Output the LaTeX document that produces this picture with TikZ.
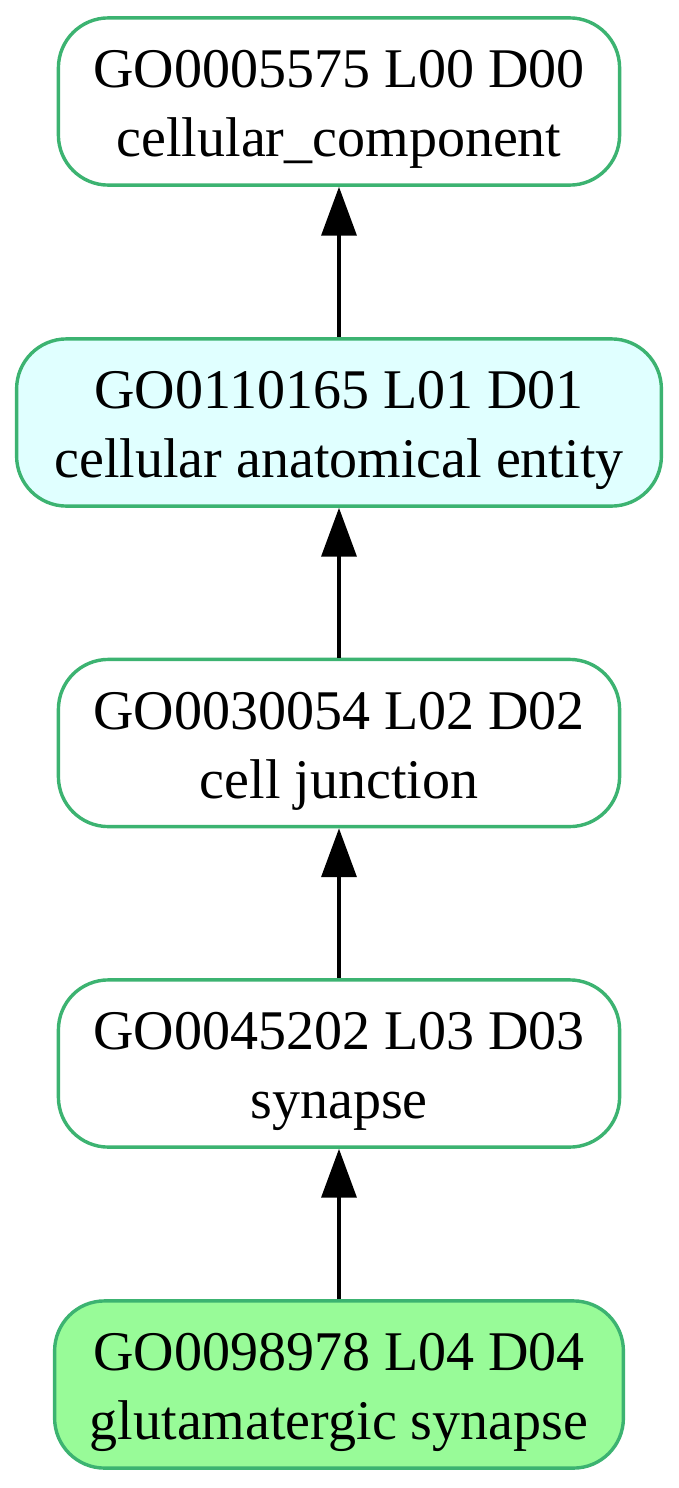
\documentclass[tikz,border=0pt]{standalone}
\usepackage{fontspec}
\setmainfont{Liberation Serif}
\usetikzlibrary{arrows.meta}
\definecolor{gborder}{HTML}{3CB371}
\definecolor{cyanfill}{HTML}{E0FFFF}
\definecolor{greenfill}{HTML}{98FB98}
\newcommand{\golabel}[2]{\rule{0pt}{14pt}#1\\#2\rule[-3.75pt]{0pt}{3.75pt}}
\tikzset{
  goterm/.style={draw=gborder, line width=0.85pt, rounded corners=12.5pt,
    fill=white, minimum width=140.3pt, minimum height=41.8pt, inner sep=0pt,
    align=center, font=\fontsize{14pt}{17.25pt}\selectfont, text=black},
  isa/.style={-{Triangle[length=12.2pt, width=8.7pt]}, line width=1pt, black}
}
\begin{document}
\begin{tikzpicture}[x=0.25pt, y=-0.25pt]
  \useasboundingbox (0,0) rectangle (678,1488);
  \node[goterm] (n1) at (339,101.5) {\golabel{GO0005575 L00 D00}{cellular\_component}};
  \node[goterm, fill=cyanfill, minimum width=161.2pt] (n2) at (339,422.5) {\golabel{GO0110165 L01 D01}{cellular anatomical entity}};
  \node[goterm] (n3) at (339,743) {\golabel{GO0030054 L02 D02}{cell junction}};
  \node[goterm] (n4) at (339,1063.5) {\golabel{GO0045202 L03 D03}{synapse}};
  \node[goterm, fill=greenfill, minimum width=142.2pt] (n5) at (339,1384.5) {\golabel{GO0098978 L04 D04}{glutamatergic synapse}};
  \draw[isa] (n2.north) -- (n1.south);
  \draw[isa] (n3.north) -- (n2.south);
  \draw[isa] (n4.north) -- (n3.south);
  \draw[isa] (n5.north) -- (n4.south);
\end{tikzpicture}
\end{document}
